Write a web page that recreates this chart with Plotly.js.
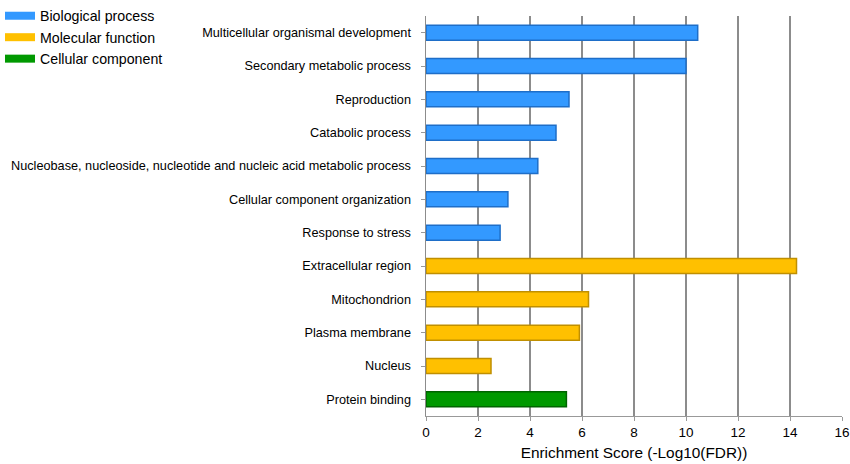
<!DOCTYPE html>
<html>
<head>
<meta charset="utf-8">
<script src="https://cdn.plot.ly/plotly-3.0.1.min.js"></script>
<style>html,body{margin:0;padding:0;background:#fff;}#chart{width:850px;height:464px;}</style>
</head>
<body>
<div id="chart"></div>
<script>
const bpTerms = ["Multicellular organismal development","Secondary metabolic process","Reproduction","Catabolic process","Nucleobase, nucleoside, nucleotide and nucleic acid metabolic process","Cellular component organization","Response to stress"];
const bpScores = [10.45, 10.0, 5.5, 5.0, 4.3, 3.15, 2.85];
const mfTerms = ["Extracellular region","Mitochondrion","Plasma membrane","Nucleus"];
const mfScores = [14.25, 6.25, 5.9, 2.5];
const ccTerms = ["Protein binding"];
const ccScores = [5.4];
const groupNames = ["Biological process","Molecular function","Cellular component"];
const xTicks = [0,2,4,6,8,10,12,14,16];

const faceColors = ["#3399FF","#FFC000","#009900"];
const edgeColors = ["#1E6EC8","#C08F00","#006400"];
const allTerms = bpTerms.concat(mfTerms, ccTerms);

const groups = [[bpTerms,bpScores],[mfTerms,mfScores],[ccTerms,ccScores]];
const traces = [];
groups.forEach((g,i)=>{
  traces.push({
    type:'bar', orientation:'h', y:g[0], x:g[1], width:0.45,
    marker:{color:faceColors[i], line:{color:edgeColors[i], width:1.5}},
    showlegend:false, hoverinfo:'x+y', name:groupNames[i]
  });
});
groups.forEach((g,i)=>{
  traces.push({
    type:'scatter', mode:'lines', x:[null], y:[null], name:groupNames[i],
    line:{color:faceColors[i], width:8}, showlegend:true, hoverinfo:'skip'
  });
});

const layout = {
  width:850, height:464,
  margin:{l:426, r:8, t:16, b:48},
  paper_bgcolor:'#fff', plot_bgcolor:'#fff',
  font:{family:'Liberation Sans, Arial, sans-serif', color:'#000', size:12},
  bargap:0.55,
  xaxis:{
    range:[0,16], tickvals:xTicks, ticktext:xTicks.map(String),
    showgrid:true, gridcolor:'#8c8c8c', gridwidth:1.5,
    zeroline:false, showline:true, linecolor:'#999', linewidth:1,
    ticks:'outside', ticklen:4, tickcolor:'#999',
    tickfont:{size:13.5},
    title:{text:'Enrichment Score (-Log10(FDR))', font:{size:15.4}, standoff:8}
  },
  yaxis:{
    categoryorder:'array', categoryarray:allTerms, autorange:'reversed',
    showline:true, linecolor:'#8c8c8c', linewidth:1.5,
    ticks:'outside', ticklen:4, tickcolor:'#999',
    tickfont:{size:12.7}, showgrid:false, zeroline:false,
    ticklabelstandoff:7
  },
  legend:{
    xref:'container', yref:'paper', x:0, y:1.045, xanchor:'left', yanchor:'top',
    font:{size:14.2}, bgcolor:'rgba(0,0,0,0)', tracegroupgap:0, itemwidth:30
  }
};
Plotly.newPlot('chart', traces, layout, {displayModeBar:false, staticPlot:true});
</script>
</body>
</html>
